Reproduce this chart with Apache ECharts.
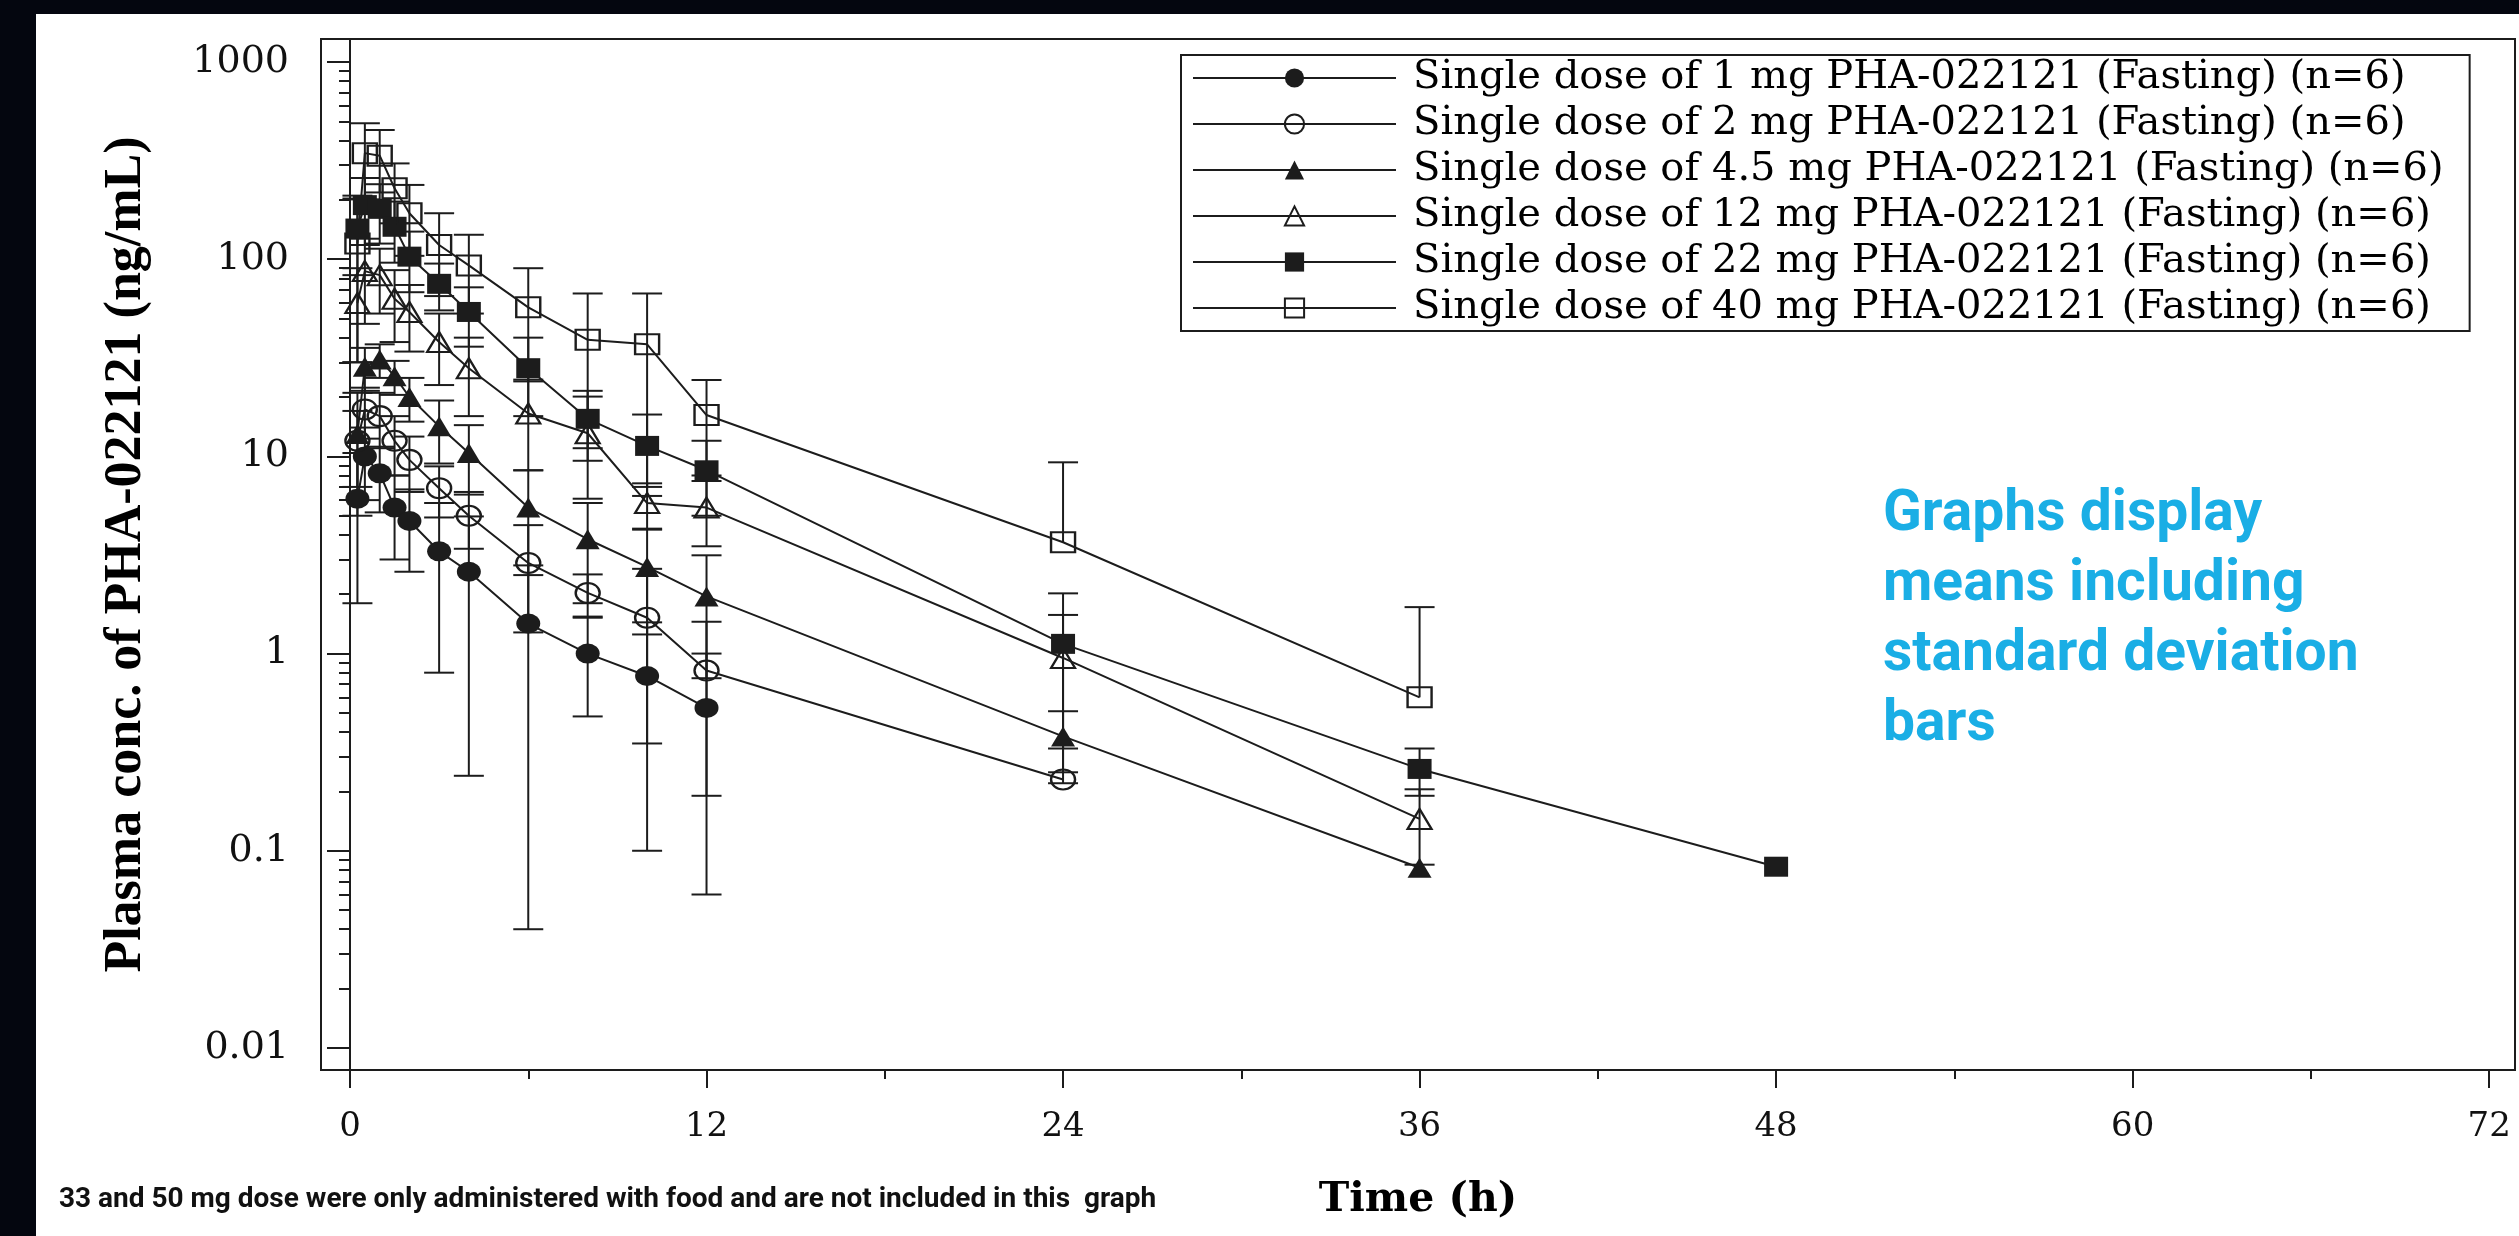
<!DOCTYPE html>
<html>
<head>
<meta charset="utf-8">
<script src="https://cdn.jsdelivr.net/npm/echarts@6/dist/echarts.min.js"></script>
<style>
    html, body { margin: 0; padding: 0; background: #04060f; }
    #chart { position: absolute; left: 36px; top: 14px; width: 2483px; height: 1222px; background: #fff; }
</style>
</head>
<body>
<div id="chart"></div>
<script>
    // sampling times (h)
    const times = [0.25, 0.5, 1, 1.5, 2, 3, 4, 6, 8, 10, 12, 24, 36, 48];

    // mean plasma conc. (ng/mL) and SD per dose
    const mean1mg = [6.1, 10, 8.2, 5.5, 4.7, 3.3, 2.6, 1.42, 1.0, 0.77, 0.53, null, null, null];
    const sd1mg = [4.3, 4, 3, 2.5, 2.1, 2.5, 2.36, 1.38, 0.52, 0.67, 0.47, null, null, null];

    const mean2mg = [12, 17.3, 16, 12, 9.6, 6.9, 5.0, 2.88, 2.03, 1.52, 0.82, 0.23, null, null];
    const sd2mg = [5, 5, 5, 4, 3, 2, 1.6, 1.6, 0.49, 1.17, 0.63, null, null, null];

    const mean4_5mg = [13, 28.5, 31, 25.5, 20, 14.2, 10.4, 5.5, 3.8, 2.75, 1.95, 0.38, 0.082, null];
    const sd4_5mg = [8, 7, 6, 5, 5, 5, 4, 3, 2, 1.5, 1.2, 0.13, null, null];

    const mean12mg = [60, 87, 83, 63, 54, 38, 28, 16.5, 13.1, 5.8, 5.5, 0.95, 0.145, null];
    const sd12mg = [30, 40, 30, 25, 20, 15, 12, 8, 7, 1.5, 2, 0.62, 0.06, null];

    const mean22mg = [143, 188, 180, 146, 103, 75, 54, 28, 15.5, 11.3, 8.5, 1.12, 0.26, 0.083];
    const sd22mg = [60, 70, 60, 50, 35, 20, 18, 12, 6, 5, 3.5, 0.9, 0.07, null];

    const mean40mg = [120, 345, 335, 229, 171, 118, 93, 57, 39, 37, 16.2, 3.67, 0.6, null];
    const sd40mg = [90, 144, 117, 77, 67, 53, 40, 33, 28, 30, 8.2, 5.66, 1.12, null];

    const xTickLabels = [0, 12, 24, 36, 48, 60, 72];
    const xMinorTicks = [6, 18, 30, 42, 54, 66];
    const yTickLabels = [0.01, 0.1, 1, 10, 100, 1000];
    const yMinorTicks = [
        0.02, 0.03, 0.04, 0.05, 0.06, 0.07, 0.08, 0.09,
        0.2, 0.3, 0.4, 0.5, 0.6, 0.7, 0.8, 0.9,
        2, 3, 4, 5, 6, 7, 8, 9,
        20, 30, 40, 50, 60, 70, 80, 90,
        200, 300, 400, 500, 600, 700, 800, 900
    ];

    const doses = [
        { name: "Single dose of 1 mg PHA-022121 (Fasting) (n=6)", mean: mean1mg, sd: sd1mg, symbol: "circle", filled: true },
        { name: "Single dose of 2 mg PHA-022121 (Fasting) (n=6)", mean: mean2mg, sd: sd2mg, symbol: "circle", filled: false },
        { name: "Single dose of 4.5 mg PHA-022121 (Fasting) (n=6)", mean: mean4_5mg, sd: sd4_5mg, symbol: "triangle", filled: true },
        { name: "Single dose of 12 mg PHA-022121 (Fasting) (n=6)", mean: mean12mg, sd: sd12mg, symbol: "triangle", filled: false },
        { name: "Single dose of 22 mg PHA-022121 (Fasting) (n=6)", mean: mean22mg, sd: sd22mg, symbol: "rect", filled: true },
        { name: "Single dose of 40 mg PHA-022121 (Fasting) (n=6)", mean: mean40mg, sd: sd40mg, symbol: "rect", filled: false }
    ];

    const ink = "#1c1c1c";
    const yMin = 0.00773;
    const yMax = 1308;
    const xMin = -0.976;
    const xMax = 72.87;
    const serif = "'DejaVu Serif', serif";

    const lineSeries = doses.map((dose) => ({
        name: dose.name,
        type: "line",
        z: 3,
        data: times
            .map((t, i) => [t, dose.mean[i]])
            .filter((point) => point[1] != null),
        symbol: dose.symbol,
        symbolSize: [24, 20],
        lineStyle: { color: ink, width: 2 },
        itemStyle: dose.filled
            ? { color: ink, borderWidth: 0 }
            : { color: "rgba(0,0,0,0)", borderColor: ink, borderWidth: 2.2 },
        emphasis: { disabled: true }
    }));

    // mean +/- SD; when the lower end falls below zero only the upper half is drawn
    const errorSeries = doses.map((dose) => ({
        name: dose.name + " SD",
        type: "custom",
        z: 2,
        clip: true,
        silent: true,
        data: times
            .map((t, i) => {
                const m = dose.mean[i];
                const s = dose.sd[i];
                if (m == null || !s) {
                    return null;
                }
                const low = m - s > 0 ? Math.max(m - s, yMin) : m;
                return [t, low, m + s, m - s > yMin ? 1 : 0];
            })
            .filter(Boolean),
        renderItem(params, api) {
            const t = api.value(0);
            const top = api.coord([t, api.value(2)]);
            const bottom = api.coord([t, api.value(1)]);
            const half = 15;
            const style = { stroke: ink, lineWidth: 2 };
            const children = [
                { type: "line", shape: { x1: top[0], y1: top[1], x2: bottom[0], y2: bottom[1] }, style },
                { type: "line", shape: { x1: top[0] - half, y1: top[1], x2: top[0] + half, y2: top[1] }, style }
            ];
            if (api.value(3)) {
                children.push({ type: "line", shape: { x1: bottom[0] - half, y1: bottom[1], x2: bottom[0] + half, y2: bottom[1] }, style });
            }
            return { type: "group", children };
        }
    }));

    const chart = echarts.init(document.getElementById("chart"), null, { renderer: "canvas" });

    chart.setOption({
        animation: false,
        backgroundColor: "#ffffff",
        grid: {
            left: 285,
            right: 4,
            top: 25,
            bottom: 166,
            show: true,
            borderColor: ink,
            borderWidth: 2,
            backgroundColor: "transparent"
        },
        legend: {
            left: 1145,
            top: 41,
            orient: "vertical",
            padding: [3, 26, 3, 11],
            itemGap: 6,
            itemWidth: 203,
            itemHeight: 24,
            borderColor: ink,
            borderWidth: 2,
            backgroundColor: "#ffffff",
            selectedMode: false,
            data: doses.map((dose) => dose.name),
            textStyle: {
                color: "#000",
                fontFamily: serif,
                fontSize: 40,
                padding: [0, 0, 0, 12]
            }
        },
        xAxis: [
            {
                type: "value",
                min: xMin,
                max: xMax,
                position: "bottom",
                name: "Time (h)",
                nameLocation: "middle",
                nameGap: 110,
                nameTextStyle: {
                    color: "#000",
                    fontFamily: serif,
                    fontWeight: "bold",
                    fontSize: 41
                },
                axisLine: { show: true, lineStyle: { color: ink, width: 2 } },
                axisTick: { show: true, length: 18, customValues: xTickLabels, lineStyle: { color: ink, width: 2 } },
                axisLabel: {
                    customValues: xTickLabels,
                    margin: 40,
                    color: "#111",
                    fontFamily: serif,
                    fontSize: 34
                },
                splitLine: { show: false }
            },
            {
                type: "value",
                min: xMin,
                max: xMax,
                position: "bottom",
                axisLine: { show: false },
                axisTick: { show: true, length: 9, customValues: xMinorTicks, lineStyle: { color: ink, width: 2 } },
                axisLabel: { show: false },
                splitLine: { show: false }
            }
        ],
        yAxis: [
            {
                type: "log",
                logBase: 10,
                min: yMin,
                max: yMax,
                position: "left",
                name: "Plasma conc. of PHA-022121 (ng/mL)",
                nameLocation: "middle",
                nameGap: 168,
                nameTextStyle: {
                    color: "#000",
                    fontFamily: "'Liberation Serif', serif",
                    fontWeight: "bold",
                    fontSize: 52
                },
                axisLine: { show: true, lineStyle: { color: ink, width: 2 } },
                axisTick: { show: true, length: 23, customValues: yTickLabels, lineStyle: { color: ink, width: 2 } },
                axisLabel: {
                    customValues: yTickLabels,
                    margin: 32,
                    color: "#111",
                    fontFamily: serif,
                    fontSize: 38,
                    formatter: (value) => String(Number(value.toPrecision(6)))
                },
                splitLine: { show: false }
            },
            {
                type: "log",
                logBase: 10,
                min: yMin,
                max: yMax,
                position: "left",
                axisLine: { show: false },
                axisTick: { show: true, length: 11, customValues: yMinorTicks, lineStyle: { color: ink, width: 2 } },
                axisLabel: { show: false },
                splitLine: { show: false }
            }
        ],
        graphic: [
            {
                type: "text",
                left: 1847,
                top: 467,
                style: {
                    text: "Graphs display\nmeans including\nstandard deviation\nbars",
                    font: "bold 57px Roboto",
                    lineHeight: 70,
                    fill: "#1aaee5"
                }
            },
            {
                type: "text",
                left: 23,
                top: 1172,
                style: {
                    text: "33 and 50 mg dose were only administered with food and are not included in this  graph",
                    font: "bold 28px Roboto",
                    fill: "#111"
                }
            }
        ],
        series: [...errorSeries, ...lineSeries]
    });
</script>
</body>
</html>
